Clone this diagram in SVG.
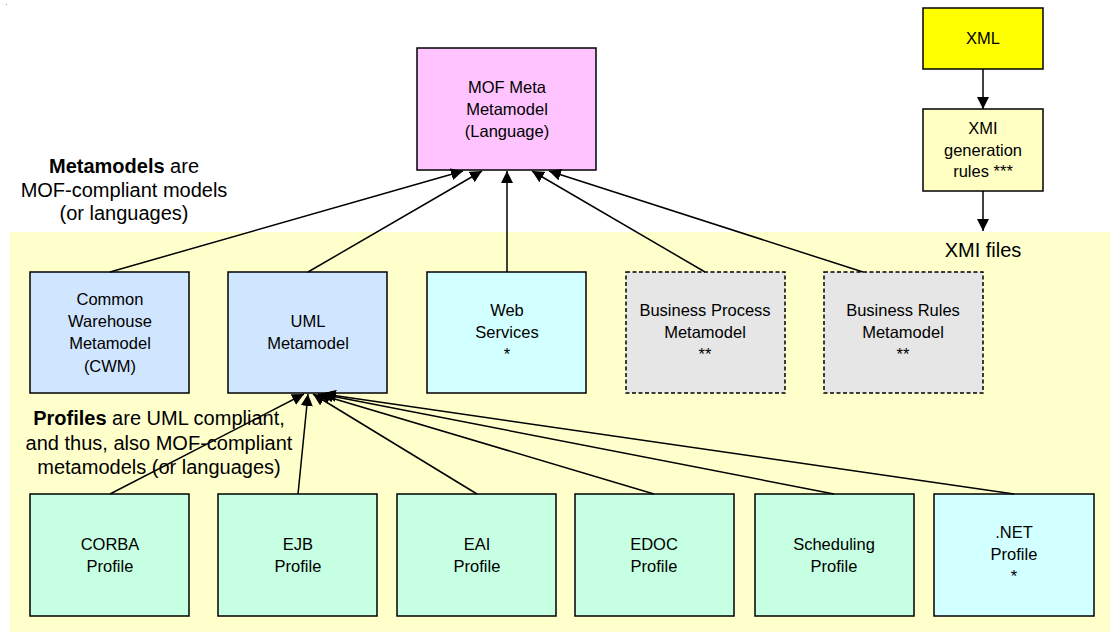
<svg xmlns="http://www.w3.org/2000/svg" width="1116" height="632" viewBox="0 0 1116 632">
<style>
  text { font-family: "Liberation Sans", Arial, sans-serif; fill: #000; text-anchor: middle; }
  .bx { font-size: 16.5px; }
  .note { font-size: 20px; }
  .box { stroke: #000; stroke-width: 1.5; }
  .dash { stroke-dasharray: 4 2.5; }
  .mof { fill: #FFC4FF; }
  .xml { fill: #FFFF00; }
  .xmi { fill: #FFFFC4; }
  .meta { fill: #D0E6FF; }
  .cyan { fill: #D2FFFF; }
  .grey { fill: #E6E6E6; }
  .prof { fill: #C6FFE2; }
  .conn line { stroke: #000; stroke-width: 1.5; marker-end: url(#arr); }
</style>
<defs>
  <marker id="arr" markerUnits="userSpaceOnUse" markerWidth="13" markerHeight="12" refX="12" refY="6" orient="auto">
    <path d="M0,0 L12,6 L0,12 z" fill="#000"/>
  </marker>
</defs>
<rect width="1116" height="632" fill="#fff"/>
<rect x="10" y="232" width="1100" height="400" fill="#FFFFCC"/>
<rect x="6" y="4" width="1" height="1" fill="#999"/>

<g id="note-metamodels">
  <text class="note" x="124" y="173"><tspan font-weight="bold">Metamodels</tspan> are</text>
  <text class="note" x="124" y="197">MOF-compliant models</text>
  <text class="note" x="124" y="220">(or languages)</text>
</g>
<g id="note-profiles">
  <text class="note" x="159" y="425"><tspan font-weight="bold">Profiles</tspan> are UML compliant,</text>
  <text class="note" x="159" y="450">and thus, also MOF-compliant</text>
  <text class="note" x="159" y="474">metamodels (or languages)</text>
</g>
<g id="note-xmifiles">
  <text class="note" x="983" y="257">XMI files</text>
</g>

<g id="mof">
  <rect class="box mof" x="417" y="48" width="179" height="122"/>
  <text class="bx" x="507" y="93">MOF Meta</text>
  <text class="bx" x="507" y="115">Metamodel</text>
  <text class="bx" x="507" y="137">(Language)</text>
</g>
<g id="xml">
  <rect class="box xml" x="923" y="8" width="120" height="61"/>
  <text class="bx" x="983" y="44">XML</text>
</g>
<g id="xmi-rules">
  <rect class="box xmi" x="923" y="109" width="120" height="82"/>
  <text class="bx" x="983" y="134">XMI</text>
  <text class="bx" x="983" y="156">generation</text>
  <text class="bx" x="983" y="177">rules ***</text>
</g>

<g id="cwm">
  <rect class="box meta" x="30" y="272" width="159" height="121"/>
  <text class="bx" x="110" y="305">Common</text>
  <text class="bx" x="110" y="327">Warehouse</text>
  <text class="bx" x="110" y="349">Metamodel</text>
  <text class="bx" x="110" y="372">(CWM)</text>
</g>
<g id="uml">
  <rect class="box meta" x="228" y="272" width="159" height="121"/>
  <text class="bx" x="308" y="327">UML</text>
  <text class="bx" x="308" y="349">Metamodel</text>
</g>
<g id="web-services">
  <rect class="box cyan" x="427" y="272" width="159" height="121"/>
  <text class="bx" x="507" y="316">Web</text>
  <text class="bx" x="507" y="338">Services</text>
  <text class="bx" x="507" y="360">*</text>
</g>
<g id="business-process">
  <rect class="box grey dash" x="626" y="272" width="159" height="121"/>
  <text class="bx" x="705" y="316">Business Process</text>
  <text class="bx" x="705" y="338">Metamodel</text>
  <text class="bx" x="705" y="360">**</text>
</g>
<g id="business-rules">
  <rect class="box grey dash" x="824" y="272" width="159" height="121"/>
  <text class="bx" x="903" y="316">Business Rules</text>
  <text class="bx" x="903" y="338">Metamodel</text>
  <text class="bx" x="903" y="360">**</text>
</g>

<g id="corba">
  <rect class="box prof" x="30" y="494" width="159" height="122"/>
  <text class="bx" x="110" y="550">CORBA</text>
  <text class="bx" x="110" y="572">Profile</text>
</g>
<g id="ejb">
  <rect class="box prof" x="218" y="494" width="159" height="122"/>
  <text class="bx" x="298" y="550">EJB</text>
  <text class="bx" x="298" y="572">Profile</text>
</g>
<g id="eai">
  <rect class="box prof" x="397" y="494" width="159" height="122"/>
  <text class="bx" x="477" y="550">EAI</text>
  <text class="bx" x="477" y="572">Profile</text>
</g>
<g id="edoc">
  <rect class="box prof" x="575" y="494" width="159" height="122"/>
  <text class="bx" x="654" y="550">EDOC</text>
  <text class="bx" x="654" y="572">Profile</text>
</g>
<g id="scheduling">
  <rect class="box prof" x="755" y="494" width="159" height="122"/>
  <text class="bx" x="834" y="550">Scheduling</text>
  <text class="bx" x="834" y="572">Profile</text>
</g>
<g id="dotnet">
  <rect class="box cyan" x="934" y="494" width="160" height="122"/>
  <text class="bx" x="1014" y="538">.NET</text>
  <text class="bx" x="1014" y="560">Profile</text>
  <text class="bx" x="1014" y="582">*</text>
</g>

<g id="connectors" class="conn">
  <line x1="110" y1="272" x2="463" y2="171"/>
  <line x1="308" y1="272" x2="482" y2="171"/>
  <line x1="507" y1="272" x2="507" y2="171"/>
  <line x1="705" y1="272" x2="532" y2="171"/>
  <line x1="863" y1="272" x2="549" y2="171"/>
  <line x1="983" y1="69" x2="983" y2="109"/>
  <line x1="983" y1="191" x2="983" y2="231"/>
  <line x1="110" y1="494" x2="304" y2="394"/>
  <line x1="298" y1="494" x2="308" y2="394"/>
  <line x1="477" y1="494" x2="313" y2="394"/>
  <line x1="654" y1="494" x2="318" y2="394"/>
  <line x1="834" y1="494" x2="321" y2="394"/>
  <line x1="1014" y1="494" x2="324" y2="394"/>
</g>
</svg>
